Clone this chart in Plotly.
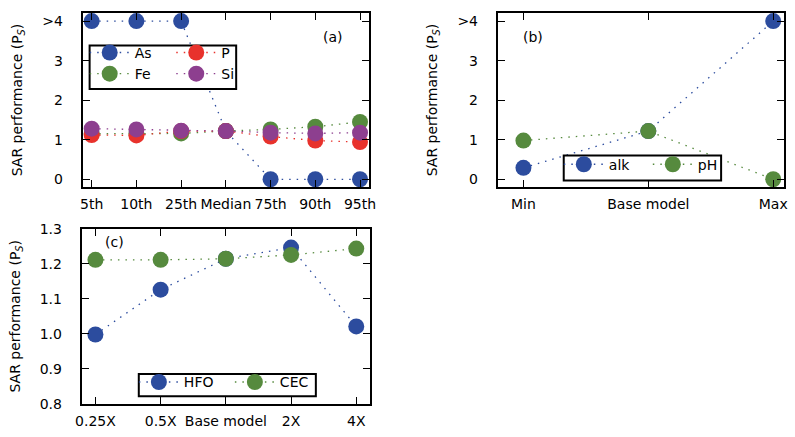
import plotly.graph_objects as go

# ---- data ----
a_cats = ['5th', '10th', '25th', 'Median', '75th', '90th', '95th']
as_vals = [4, 4, 4, 1.22, 0, 0, 0]
fe_vals = [1.15, 1.15, 1.16, 1.22, 1.26, 1.33, 1.45]
p_vals = [1.12, 1.11, 1.22, 1.22, 1.08, 0.98, 0.94]
si_vals = [1.28, 1.26, 1.23, 1.22, 1.18, 1.16, 1.18]

b_cats = ['Min', 'Base model', 'Max']
alk_vals = [0.29, 1.22, 4]
ph_vals = [0.98, 1.22, 0]

c_cats = ['0.25X', '0.5X', 'Base model', '2X', '4X']
hfo_vals = [0.998, 1.126, 1.214, 1.246, 1.021]
cec_vals = [1.211, 1.211, 1.214, 1.225, 1.243]

ab_tickvals = [0, 1, 2, 3, 4]
ab_ticktext = ['0', '1', '2', '3', '>4']
c_tickvals = [0.8, 0.9, 1.0, 1.1, 1.2, 1.3]

BLUE = '#2c4c9e'
GREEN = '#568a3e'
RED = '#e8322c'
PURPLE = '#8d3f8f'

W, H = 795, 437
FONT = 'DejaVu Sans'
FS = 14
DOT = '1.5px,6px'


def px_x(p):
    return p / W


def px_y(p):
    return 1 - p / H


fig = go.Figure()


def add(xv, yv, name, color, xa, ya, legend):
    fig.add_trace(go.Scatter(
        x=list(range(len(xv))), y=yv, name=name, mode='lines+markers',
        line=dict(color=color, width=1.3, dash=DOT),
        marker=dict(color=color, size=16, line=dict(width=0)),
        xaxis=xa, yaxis=ya, legend=legend))


add(a_cats, as_vals, 'As', BLUE, 'x', 'y', 'legend')
add(a_cats, fe_vals, 'Fe', GREEN, 'x', 'y', 'legend')
add(a_cats, p_vals, 'P', RED, 'x', 'y', 'legend4')
add(a_cats, si_vals, 'Si', PURPLE, 'x', 'y', 'legend4')
add(b_cats, alk_vals, 'alk', BLUE, 'x2', 'y2', 'legend2')
add(b_cats, ph_vals, 'pH', GREEN, 'x2', 'y2', 'legend2')
add(c_cats, hfo_vals, 'HFO', BLUE, 'x3', 'y3', 'legend3')
add(c_cats, cec_vals, 'CEC', GREEN, 'x3', 'y3', 'legend3')

axis_common = dict(showline=True, linecolor='black', linewidth=2, mirror='allticks',
                   ticks='inside', ticklen=7, tickwidth=1, tickcolor='black',
                   showgrid=False, zeroline=False,
                   tickfont=dict(family=FONT, size=FS, color='black'))

ytitle = dict(text='SAR performance (P<sub><i>S</i></sub>)',
              font=dict(family=FONT, size=FS, color='black'), standoff=16)

IW = 40  # legend symbol width
OFF = IW / 2 + 5  # marker centre offset from legend left edge


def leg(mx, my, horiz=False, ew=None, voff=20):
    d = dict(x=px_x(mx - OFF), y=px_y(my - voff), xanchor='left', yanchor='top',
             bgcolor='rgba(0,0,0,0)', borderwidth=0, tracegroupgap=0, itemwidth=IW,
             font=dict(family=FONT, size=FS, color='black'))
    if horiz:
        d['orientation'] = 'h'
        d['entrywidth'] = ew
    return d


fig.update_layout(
    width=W, height=H, margin=dict(l=0, r=0, t=0, b=0),
    paper_bgcolor='white', plot_bgcolor='white',
    font=dict(family=FONT, size=FS, color='black'),
    xaxis=dict(domain=[px_x(78), px_x(369)], range=[-0.2, 6.2], ticklabelstandoff=3,
               tickvals=list(range(len(a_cats))), ticktext=a_cats, anchor='y', **axis_common),
    yaxis=dict(domain=[px_y(186), px_y(5)], range=[-0.2, 4.21],
               tickvals=ab_tickvals, ticktext=ab_ticktext, anchor='x', title=ytitle,
               ticklabelstandoff=15, **axis_common),
    xaxis2=dict(domain=[px_x(500), px_x(791)], range=[-0.205, 2.087], ticklabelstandoff=3,
                tickvals=list(range(len(b_cats))), ticktext=b_cats, anchor='y2', **axis_common),
    yaxis2=dict(domain=[px_y(186), px_y(5)], range=[-0.2, 4.21],
                tickvals=ab_tickvals, ticktext=ab_ticktext, anchor='x2', title=ytitle,
                ticklabelstandoff=15, **axis_common),
    xaxis3=dict(domain=[px_x(77), px_x(370)], range=[-0.21, 4.21], ticklabelstandoff=3,
                tickvals=list(range(len(c_cats))), ticktext=c_cats, anchor='y3', **axis_common),
    yaxis3=dict(domain=[px_y(411), px_y(229)], range=[0.8, 1.3],
                tickvals=c_tickvals, tickformat='.1f', anchor='x3', title=ytitle,
                ticklabelstandoff=15, **axis_common),
    legend=leg(105, 52, voff=22),
    legend4=leg(193, 52, voff=22),
    legend2=leg(587, 166, True, 34),
    legend3=leg(155, 392, True, 41),
    showlegend=True,
)

# legend frames (white filled, drawn above the data)
for (x0, y0, x1, y1) in [(85, 39, 234, 84), (567, 153, 727, 179), (135, 380, 315, 403)]:
    fig.add_shape(type='rect', xref='paper', yref='paper',
                  x0=px_x(x0), x1=px_x(x1), y0=px_y(y1), y1=px_y(y0),
                  line=dict(color='black', width=2), fillcolor='white', layer='above')

fig.add_annotation(text='(a)', xref='x', yref='y', x=5.39, y=3.6, showarrow=False,
                   font=dict(family=FONT, size=FS, color='black'))
fig.add_annotation(text='(b)', xref='x2', yref='y2', x=0.08, y=3.6, showarrow=False,
                   font=dict(family=FONT, size=FS, color='black'))
fig.add_annotation(text='(c)', xref='x3', yref='y3', x=0.29, y=1.262, showarrow=False,
                   font=dict(family=FONT, size=FS, color='black'))

fig.write_html('out.html', config={'displayModeBar': False},
               post_script="document.body.style.margin='0';")
